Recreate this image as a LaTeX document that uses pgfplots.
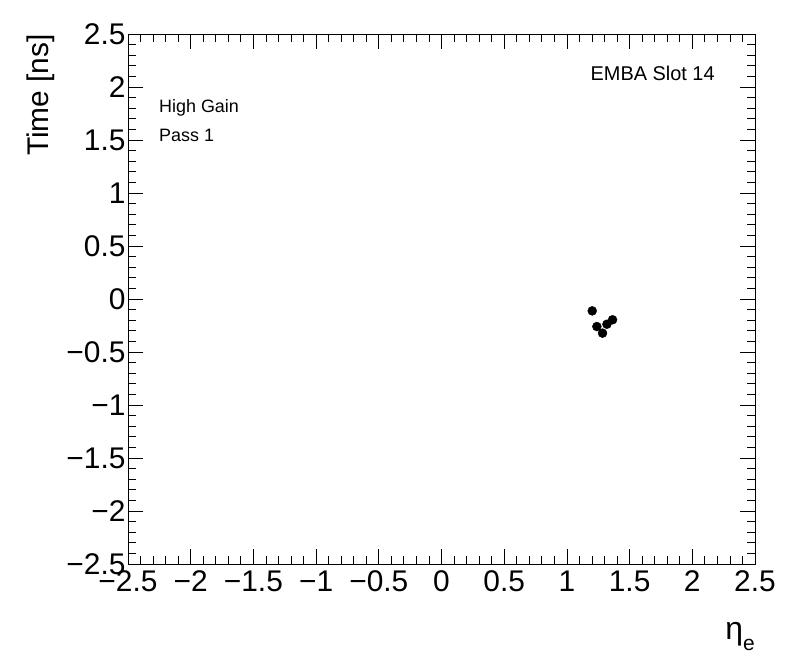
\documentclass[border=0pt]{standalone}
\usepackage{pgfplots}
\pgfplotsset{compat=1.18}
\usepackage{fontspec}
\setmainfont{Liberation Sans}
\begin{document}
\begin{tikzpicture}
\useasboundingbox (-128bp,-108bp) rectangle (668bp,564bp);
\begin{axis}[
  scale only axis,
  width=627bp, height=530bp,
  xmin=-2.5, xmax=2.5, ymin=-2.5, ymax=2.5,
  axis line style={line width=0.8bp},
  xtick={-2.5,-2,-1.5,-1,-0.5,0,0.5,1,1.5,2,2.5},
  ytick={-2.5,-2,-1.5,-1,-0.5,0,0.5,1,1.5,2,2.5},
  xticklabels={−2.5,−2,−1.5,−1,−0.5,0,0.5,1,1.5,2,2.5},
  yticklabels={−2.5,−2,−1.5,−1,−0.5,0,0.5,1,1.5,2,2.5},
  minor tick num=4,
  tick align=inside,
  xtick pos=both, ytick pos=both,
  major tick length=15bp, minor tick length=8bp,
  tick style={line width=0.8bp, black},
  ticklabel style={font=\fontsize{30}{30}\selectfont},
  xticklabel style={yshift=-3bp},
  yticklabel style={xshift=1bp},
  clip=false,
]
\addplot[only marks, mark=*, mark size=4.5bp, black] coordinates {
  (1.202,-0.112)
  (1.239,-0.260)
  (1.284,-0.322)
  (1.319,-0.238)
  (1.364,-0.196)
};
\node[anchor=west, inner sep=0pt, font=\fontsize{18}{18}\selectfont] at (rel axis cs:0.0494,0.861) {High Gain};
\node[anchor=west, inner sep=0pt, font=\fontsize{18}{18}\selectfont] at (rel axis cs:0.0494,0.808) {Pass 1};
\node[anchor=east, inner sep=0pt, font=\fontsize{20}{20}\selectfont] at (rel axis cs:0.936,0.925) {EMBA Slot 14};
\node[rotate=90, anchor=south east, inner sep=0pt, font=\fontsize{30}{30}\selectfont] at ([xshift=-73bp]rel axis cs:0,1) {Time [ns]};
\node[anchor=north east, inner sep=0pt, font=\fontsize{32}{32}\selectfont] at ([yshift=-58bp]rel axis cs:1,0) {η\raisebox{-0.35em}{\fontsize{21}{21}\selectfont e}};
\end{axis}
\end{tikzpicture}
\end{document}
